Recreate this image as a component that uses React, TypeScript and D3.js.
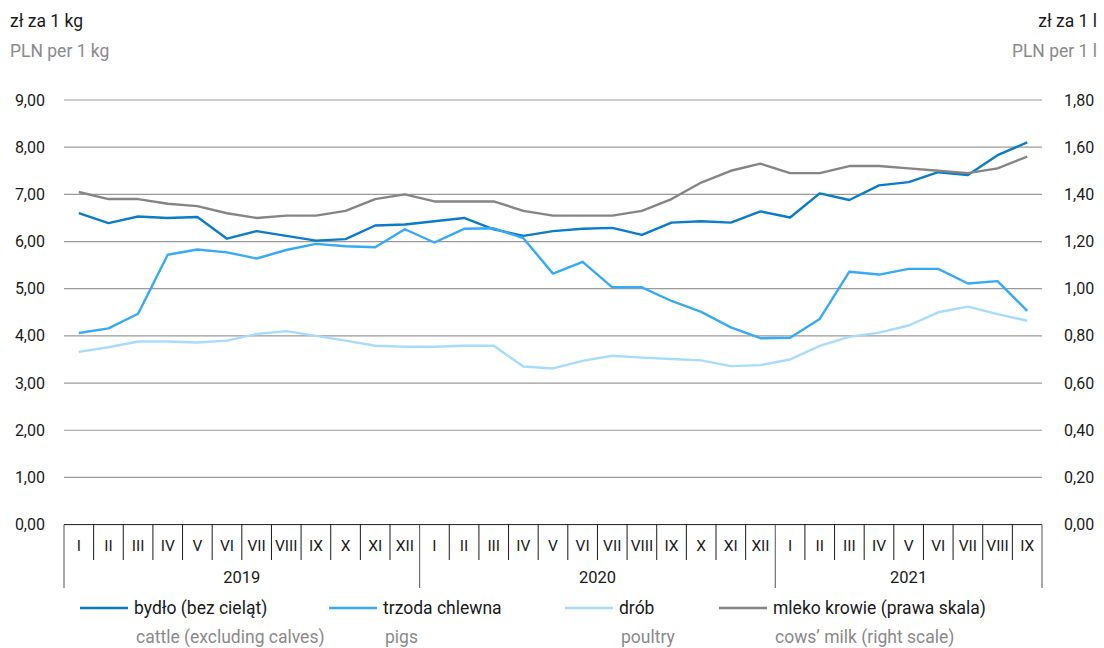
import * as d3 from "d3";
import * as React from "react";

// values, Jan 2019 .. Sep 2021
const months = ["I", "II", "III", "IV", "V", "VI", "VII", "VIII", "IX", "X", "XI", "XII"];
const years = [
  { label: "2019", count: 12 },
  { label: "2020", count: 12 },
  { label: "2021", count: 9 },
];
const cattle = [6.60, 6.39, 6.53, 6.50, 6.52, 6.06, 6.22, 6.12, 6.02, 6.05, 6.34, 6.36,
  6.43, 6.50, 6.26, 6.12, 6.22, 6.27, 6.29, 6.14, 6.40, 6.43, 6.40, 6.64,
  6.51, 7.02, 6.88, 7.19, 7.26, 7.47, 7.41, 7.83, 8.10];
const pigs = [4.06, 4.16, 4.47, 5.72, 5.83, 5.77, 5.64, 5.82, 5.95, 5.90, 5.88, 6.26,
  5.98, 6.27, 6.28, 6.07, 5.32, 5.57, 5.03, 5.03, 4.74, 4.51, 4.18, 3.95,
  3.96, 4.36, 5.36, 5.30, 5.42, 5.42, 5.11, 5.16, 4.53];
const poultry = [3.66, 3.76, 3.88, 3.88, 3.86, 3.90, 4.04, 4.10, 4.00, 3.90, 3.79, 3.77,
  3.77, 3.79, 3.79, 3.35, 3.31, 3.47, 3.58, 3.54, 3.51, 3.48, 3.36, 3.38,
  3.50, 3.79, 3.98, 4.07, 4.22, 4.50, 4.62, 4.46, 4.32];
const milk = [1.41, 1.38, 1.38, 1.36, 1.35, 1.32, 1.30, 1.31, 1.31, 1.33, 1.38, 1.40,
  1.37, 1.37, 1.37, 1.33, 1.31, 1.31, 1.31, 1.33, 1.38, 1.45, 1.50, 1.53,
  1.49, 1.49, 1.52, 1.52, 1.51, 1.50, 1.49, 1.51, 1.56];
const leftTicks = [0, 1, 2, 3, 4, 5, 6, 7, 8, 9];
const rightTicks = [0, 0.2, 0.4, 0.6, 0.8, 1.0, 1.2, 1.4, 1.6, 1.8];

const series = [
  { pl: "bydło (bez cieląt)", en: "cattle (excluding calves)", values: cattle, color: "#0a7cc8", axis: "left", lx: 80 },
  { pl: "trzoda chlewna", en: "pigs", values: pigs, color: "#36aaf5", axis: "left", lx: 329 },
  { pl: "drób", en: "poultry", values: poultry, color: "#a8dcfc", axis: "left", lx: 565 },
  { pl: "mleko krowie (prawa skala)", en: "cows\u2019 milk (right scale)", values: milk, color: "#858585", axis: "right", lx: 719 },
];

const W = 1104, H = 648;
const left = 64, right = 1042, top = 100, bottom = 524.6;
const font = "Roboto, 'Noto Sans', sans-serif";

export default function App() {
  const n = cattle.length;
  const idx = d3.range(n);
  const x = d3.scaleBand<number>().domain(idx).range([left, right]).padding(0);
  const cx = (i: number) => (x(i) as number) + x.bandwidth() / 2;
  const yL = d3.scaleLinear().domain([0, 9]).range([bottom, top]);
  const yR = d3.scaleLinear().domain([0, 1.8]).range([bottom, top]);
  const fmt = (v: number) => d3.format(".2f")(v).replace(".", ",");
  const monthLabel = (i: number) => months[i % 12];

  // year boundaries as month indices
  const yearStarts: number[] = [];
  let acc = 0;
  years.forEach((y) => { yearStarts.push(acc); acc += y.count; });

  return (
    <svg width={W} height={H} style={{ position: "absolute", left: 0, top: 0, display: "block" }} fontFamily={font}>
      {/* unit labels */}
      <text x={10} y={21} dy="0.35em" fontSize={17.5} fill="#1a1a1a">zł za 1 kg</text>
      <text x={10} y={51} dy="0.35em" fontSize={17.5} fill="#8a8a8a">PLN per 1 kg</text>
      <text x={1097} y={21} dy="0.35em" fontSize={17.5} fill="#1a1a1a" textAnchor="end">zł za 1 l</text>
      <text x={1097} y={51} dy="0.35em" fontSize={17.5} fill="#8a8a8a" textAnchor="end">PLN per 1 l</text>

      {/* grid */}
      {leftTicks.filter((t) => t > 0).map((t) => (
        <line key={"g" + t} x1={left} x2={right} y1={yL(t)} y2={yL(t)} stroke="#9a9a9a" strokeWidth={1.2} />
      ))}
      {leftTicks.map((t) => (
        <text key={"l" + t} x={45} y={yL(t)} dy="0.35em" fontSize={16} textAnchor="end" fill="#1a1a1a">{fmt(t)}</text>
      ))}
      {rightTicks.map((t) => (
        <text key={"r" + t} x={1064} y={yR(t)} dy="0.35em" fontSize={16} fill="#1a1a1a">{fmt(t)}</text>
      ))}

      {/* category axis */}
      <line x1={left} x2={right} y1={bottom} y2={bottom} stroke="#1a1a1a" strokeWidth={1} />
      {d3.range(n + 1).map((i) => {
        const isYear = yearStarts.includes(i) || i === n;
        const xx = i === n ? right : (x(i) as number);
        return <line key={"t" + i} x1={xx} x2={xx} y1={bottom} y2={isYear ? 588 : 560} stroke={isYear ? "#555" : "#1a1a1a"} strokeWidth={1} />;
      })}
      {idx.map((i) => (
        <text key={"m" + i} x={cx(i)} y={546} dy="0.35em" fontSize={15.5} textAnchor="middle" fill="#1a1a1a">{monthLabel(i)}</text>
      ))}
      {years.map((y, k) => {
        const s = yearStarts[k];
        const x0 = x(s) as number;
        const x1 = (x(s + y.count - 1) as number) + x.bandwidth();
        return <text key={"y" + y.label} x={(x0 + x1) / 2} y={577} dy="0.35em" fontSize={16.5} textAnchor="middle" fill="#1a1a1a">{y.label}</text>;
      })}

      {/* lines */}
      {series.map((s) => {
        const yS = s.axis === "left" ? yL : yR;
        const line = d3.line<number>().x((_, i) => cx(i)).y((v) => yS(v));
        return <path key={s.pl} d={line(s.values) || ""} fill="none" stroke={s.color} strokeWidth={2.4} strokeLinejoin="round" />;
      })}

      {/* legend */}
      {series.map((s) => (
        <g key={"lg" + s.pl}>
          <line x1={s.lx} x2={s.lx + 48} y1={608} y2={608} stroke={s.color} strokeWidth={2.6} />
          <text x={s.lx + 54} y={608} dy="0.35em" fontSize={17.5} fill="#1a1a1a">{s.pl}</text>
          <text x={s.lx + 56} y={637} dy="0.35em" fontSize={17.5} fill="#8a8a8a">{s.en}</text>
        </g>
      ))}
    </svg>
  );
}
